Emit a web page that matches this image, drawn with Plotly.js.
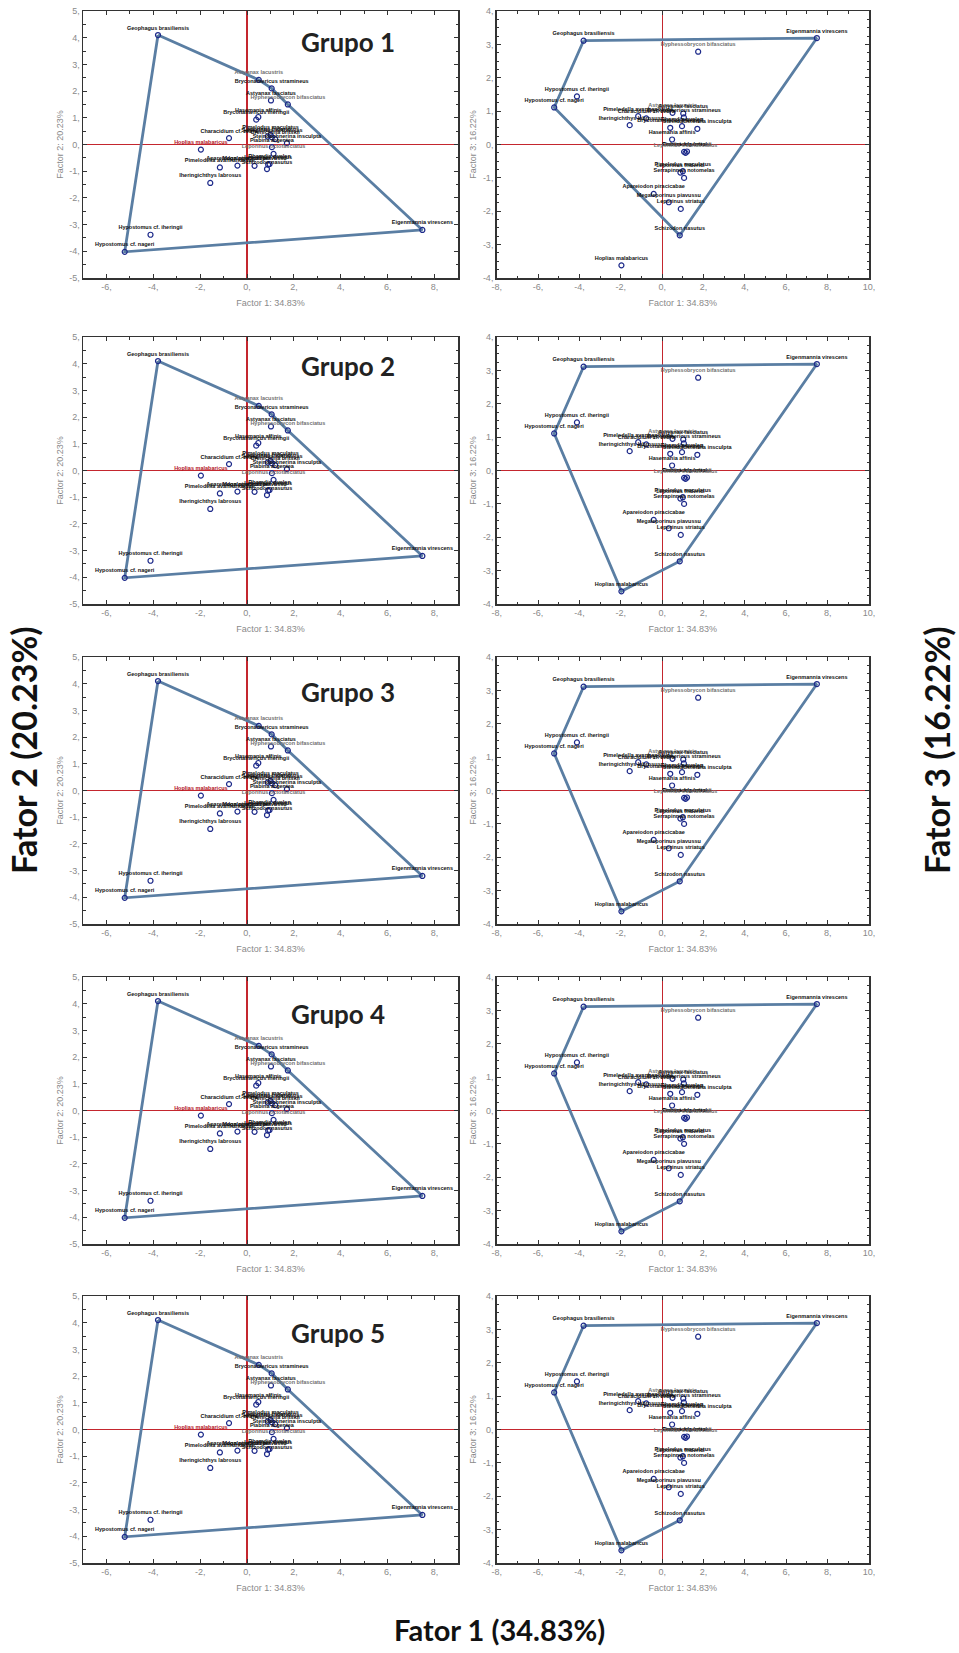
<!DOCTYPE html>
<html><head><meta charset="utf-8">
<script src="https://cdn.plot.ly/plotly-3.0.1.min.js"></script>
<style>html,body{margin:0;padding:0;background:#fff}#chart{width:959px;height:1653px}</style>
</head><body><div id="chart"></div>
<script>
// ---------------- data ----------------
const species = [
  'Geophagus brasiliensis','Astyanax lacustris','Bryconamericus stramineus','Astyanax fasciatus',
  'Hyphessobrycon bifasciatus','Hasemania affinis','Bryconamericus iheringii','Characidium cf. zebra',
  'Leporinus friderici','Pimelodus maculatus','Serrapinnus notomelas','Steindachnerina insculpta',
  'Piabina argentea','Crenicichla britskii','Leporinus octofasciatus','Hoplias malabaricus',
  'Apareiodon piracicabae','Pimelodella avanhandavae','Rhamdia quelen','Schizodon nasutus',
  'Megaleporinus piavussu','Leporinus striatus','Iheringichthys labrosus','Hypostomus cf. iheringii',
  'Hypostomus cf. nageri','Eigenmannia virescens'
];
const factor1 = [-3.80, 0.50, 1.05, 1.02, 1.74, 0.48, 0.39, -0.77, 0.88, 1.00, 1.06, 1.70, 1.06, 1.20, 1.13, -1.97, -0.41, -1.16, 0.96, 0.85, 0.32, 0.90, -1.57, -4.12, -5.22, 7.48];
const factor2 = [4.10, 2.42, 2.10, 1.65, 1.50, 1.03, 0.93, 0.24, 0.30, 0.36, 0.27, 0.05, -0.10, 0.20, -0.35, -0.19, -0.79, -0.86, -0.73, -0.92, -0.80, -0.75, -1.44, -3.38, -4.02, -3.20];
const factor3 = [3.11, 0.95, 0.81, 0.93, 2.78, 0.15, 0.50, 0.78, -0.84, -0.80, -1.00, 0.47, -0.22, -0.21, -0.25, -3.62, -1.48, 0.85, 0.55, -2.72, -1.73, -1.93, 0.58, 1.44, 1.11, 3.19];

const groups = ['Grupo 1','Grupo 2','Grupo 3','Grupo 4','Grupo 5'];
const hullF2 = ['Geophagus brasiliensis','Astyanax lacustris','Bryconamericus stramineus','Hyphessobrycon bifasciatus','Eigenmannia virescens','Hypostomus cf. nageri','Geophagus brasiliensis'];
const hullF3Grupo1 = ['Geophagus brasiliensis','Eigenmannia virescens','Schizodon nasutus','Hypostomus cf. nageri','Geophagus brasiliensis'];
const hullF3Others = ['Geophagus brasiliensis','Eigenmannia virescens','Schizodon nasutus','Hoplias malabaricus','Hypostomus cf. nageri','Geophagus brasiliensis'];
const hullF3 = [hullF3Grupo1, hullF3Others, hullF3Others, hullF3Others, hullF3Others];

const ticksF1Left = [-6,-4,-2,0,2,4,6,8];
const ticksF1Right = [-8,-6,-4,-2,0,2,4,6,8,10];
const ticksF2 = [-5,-4,-3,-2,-1,0,1,2,3,4,5];
const ticksF3 = [-4,-3,-2,-1,0,1,2,3,4];

const titleF1 = 'Factor 1: 34.83%';
const titleF2 = 'Factor 2: 20.23%';
const titleF3 = 'Factor 3: 16.22%';
const bigF1 = 'Fator 1 (34.83%)';
const bigF2 = 'Fator 2 (20.23%)';
const bigF3 = 'Fator 3 (16.22%)';

// ---------------- style ----------------
const W = 959, H = 1653;
const rowTops = [11, 337, 657, 977, 1296];
const plotH = 267;
const colX = [[83, 458], [496.7, 869]];
const grupoPos = [[4.3, 3.85], [4.3, 3.9], [4.3, 3.7], [3.9, 3.6], [3.9, 3.6]];
const labelGray = ['Hyphessobrycon bifasciatus', 'Leporinus octofasciatus', 'Astyanax lacustris'];
const labelRedLeft = ['Hoplias malabaricus'];

const hullColor = '#5a7ea3';
const markerColor = '#1d2a8a';
const zeroColor = '#c4262e';
const tickColor = '#8a8a8a';

const idx = n => species.indexOf(n);
const tickText = v => v.map(t => String(t) + ',');

const data = [];
const layout = {
  width: W, height: H, margin: {l:0, r:0, t:0, b:0},
  paper_bgcolor: '#fff', plot_bgcolor: '#fff', showlegend: false,
  font: {family: 'Liberation Sans, Arial, sans-serif'},
  annotations: []
};

function axisCommon(range, tickvals, minorD, title, domain, anchor, isX) {
  return {
    domain: domain, anchor: anchor, range: range,
    tickmode: 'array', tickvals: tickvals, ticktext: tickText(tickvals),
    ticks: 'inside', ticklen: 4, tickwidth: 1, tickcolor: '#333',
    minor: {dtick: minorD, tick0: 0, ticks: 'inside', ticklen: 2.5, tickcolor: '#333', tickwidth: 1},
    showline: true, mirror: 'allticks', linecolor: '#333', linewidth: 1.5,
    showgrid: false, zeroline: true, zerolinecolor: zeroColor, zerolinewidth: 1.3,
    tickfont: {size: 9, color: tickColor, family: 'Liberation Sans, Arial, sans-serif'},
    title: {text: title, font: {size: 9, color: tickColor, family: 'Liberation Sans, Arial, sans-serif'}, standoff: isX ? 8 : 4},
    fixedrange: true
  };
}

for (let r = 0; r < 5; r++) {
  const top = rowTops[r];
  const ydom = [1 - (top + plotH) / H, 1 - top / H];
  for (let c = 0; c < 2; c++) {
    const i = r * 2 + c + 1;
    const xs = i === 1 ? 'x' : 'x' + i;
    const ys = i === 1 ? 'y' : 'y' + i;
    const xdom = [colX[c][0] / W, colX[c][1] / W];
    const yVals = c === 0 ? factor2 : factor3;
    const hull = c === 0 ? hullF2 : hullF3[r];

    layout[i === 1 ? 'xaxis' : 'xaxis' + i] = axisCommon(
      c === 0 ? [-7, 9] : [-8, 10], c === 0 ? ticksF1Left : ticksF1Right, 1, titleF1, xdom, ys, true);
    layout[i === 1 ? 'yaxis' : 'yaxis' + i] = axisCommon(
      c === 0 ? [-5, 5] : [-4, 4], c === 0 ? ticksF2 : ticksF3, c === 0 ? 0.5 : 0.25,
      c === 0 ? titleF2 : titleF3, ydom, xs, false);

    data.push({
      type: 'scatter', mode: 'lines', xaxis: xs, yaxis: ys,
      x: hull.map(n => factor1[idx(n)]), y: hull.map(n => yVals[idx(n)]),
      line: {color: hullColor, width: 2.8}, hoverinfo: 'skip'
    });
    const colors = species.map(n => labelGray.includes(n) ? '#6f6f6f' : (c === 0 && labelRedLeft.includes(n) ? '#b3121c' : '#111'));
    data.push({
      type: 'scatter', mode: 'markers+text', xaxis: xs, yaxis: ys,
      x: factor1, y: yVals, text: species, textposition: 'top center',
      textfont: {size: 5.5, color: colors, family: 'Liberation Sans, Arial, sans-serif', weight: 'bold'},
      marker: {symbol: 'circle-open', size: 5, color: markerColor, line: {width: 1.2, color: markerColor}},
      cliponaxis: false
    });
    if (c === 0) {
      layout.annotations.push({
        xref: xs, yref: ys, x: grupoPos[r][0], y: grupoPos[r][1], text: groups[r], showarrow: false,
        font: {family: 'Lato, sans-serif', size: 26, color: '#222', weight: 'bold'}, xanchor: 'center', yanchor: 'middle'
      });
    }
  }
}

layout.annotations.push(
  {xref: 'paper', yref: 'paper', x: 24 / W, y: 1 - 750 / H, text: bigF2, textangle: -90, showarrow: false,
   font: {family: 'Lato, sans-serif', size: 34, color: '#111', weight: 'bold'}, xanchor: 'center', yanchor: 'middle'},
  {xref: 'paper', yref: 'paper', x: 937 / W, y: 1 - 750 / H, text: bigF3, textangle: -90, showarrow: false,
   font: {family: 'Lato, sans-serif', size: 34, color: '#111', weight: 'bold'}, xanchor: 'center', yanchor: 'middle'},
  {xref: 'paper', yref: 'paper', x: 499 / W, y: 1 - 1629 / H, text: bigF1, showarrow: false,
   font: {family: 'Lato, sans-serif', size: 29, color: '#111', weight: 'bold'}, xanchor: 'center', yanchor: 'middle'}
);

Plotly.newPlot('chart', data, layout, {staticPlot: true, displayModeBar: false});
</script>
</body></html>
